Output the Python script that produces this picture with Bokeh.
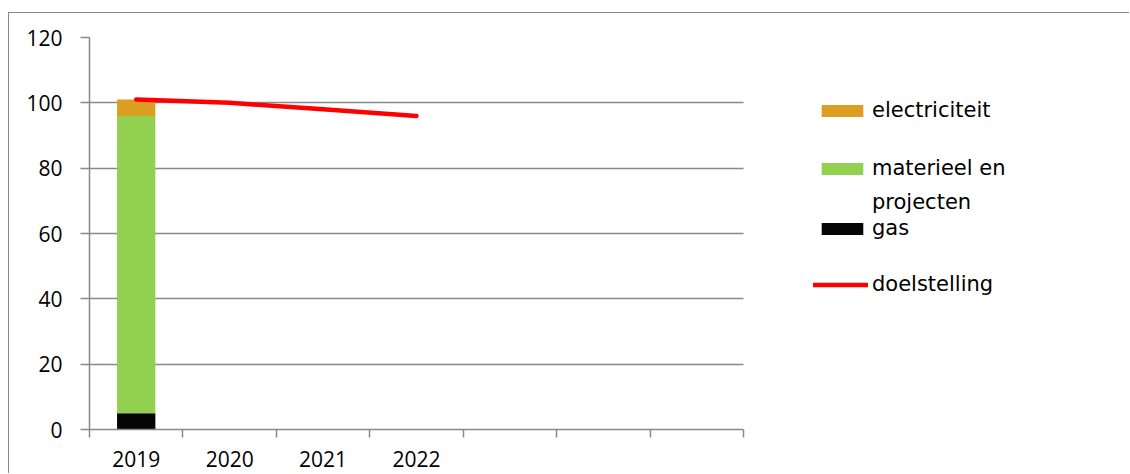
from bokeh.plotting import figure
from bokeh.models import Range1d, FixedTicker, Legend, LegendItem
from bokeh.embed import file_html
from bokeh.resources import INLINE

# ---- data ----
years = ["2019", "2020", "2021", "2022"]
n_slots = 7
bar_years = ["2019"]
gas = [5]
materieel = [91]
electriciteit = [5]
doelstelling = [101, 100, 98, 96]
y_ticks = [0, 20, 40, 60, 80, 100, 120]

ORANGE = "#DC9E20"
GREEN = "#92D050"
BLACK = "#050505"
RED = "#FF0000"
GRAY = "#898989"
FONT = "Open Sans"
LFONT = "DejaVu Sans"

# layout (canvas origin sits at page (9, 13) because of the CSS border)
CW, CH = 1121, 461
LEFT, TOP, BOTTOM = 80, 24, 45
PLOT_W = 654                      # width of the category area in px
frame_w = CW - LEFT
x_end = n_slots * frame_w / PLOT_W

p = figure(width=CW, height=CH, output_backend="svg", toolbar_location=None,
           x_range=Range1d(0, x_end), y_range=Range1d(0, 120),
           min_border_left=LEFT, min_border_right=0, min_border_top=TOP,
           min_border_bottom=BOTTOM)
p.outline_line_color = None
p.background_fill_color = "white"
p.border_fill_color = "white"
p.styles = {"margin-left": "8px", "margin-top": "12px",
            "border-left": "1px solid #898989", "border-top": "1px solid #898989"}

bx = [years.index(y) + 0.5 for y in bar_years]
src = dict(x=bx, gas=gas, materieel=materieel, electriciteit=electriciteit)
bars = p.vbar_stack(["gas", "materieel", "electriciteit"], x="x", width=0.41,
                    source=src, color=[BLACK, GREEN, ORANGE], line_color=None)

lx = [years.index(y) + 0.5 for y in years]
line = p.line(lx, doelstelling, line_color=RED, line_width=4.5, line_cap="round")

# axes
xa = p.xaxis[0]
xa.bounds = (0, n_slots)
xa.ticker = FixedTicker(ticks=lx, minor_ticks=list(range(n_slots + 1)))
xa.major_label_overrides = {x: y for x, y in zip(lx, years)}
xa.major_tick_line_color = None
xa.major_tick_out = 8
xa.major_tick_in = 0
xa.minor_tick_out = 8
xa.minor_tick_in = 0
xa.minor_tick_line_color = GRAY
xa.minor_tick_line_width = 1.5
xa.axis_line_color = GRAY
xa.axis_line_width = 1.5
xa.major_label_standoff = 13
xa.major_label_text_font = FONT
xa.major_label_text_font_size = "21px"
xa.major_label_text_color = "black"

ya = p.yaxis[0]
ya.ticker = FixedTicker(ticks=y_ticks)
ya.major_tick_out = 9
ya.major_tick_in = 0
ya.minor_tick_line_color = None
ya.major_tick_line_color = GRAY
ya.major_tick_line_width = 1.5
ya.axis_line_color = GRAY
ya.axis_line_width = 1.5
ya.major_label_standoff = 18
ya.major_label_text_font = FONT
ya.major_label_text_font_size = "21px"
ya.major_label_text_color = "black"

p.xgrid.grid_line_color = None
p.ygrid.grid_line_color = GRAY
p.ygrid.grid_line_width = 1.5
p.ygrid.cross_bounds = (0, n_slots)

frame_h = CH - TOP - BOTTOM
frame_top_abs = 13 + TOP
frame_left_abs = 9 + LEFT

def add_leg(label, renderer, y_center_abs, x_abs=816, gw=52, gh=15):
    h = 26
    bottom_from_frame_bottom = frame_h - (y_center_abs - frame_top_abs) - h / 2
    leg = Legend(items=[LegendItem(label=label, renderers=[renderer])],
                 location=(x_abs - frame_left_abs, bottom_from_frame_bottom),
                 margin=0, padding=0, border_line_color=None,
                 background_fill_alpha=0, glyph_width=gw, glyph_height=gh,
                 label_height=h, label_standoff=4,
                 label_text_font=LFONT, label_text_font_size="21px",
                 label_text_color="black")
    p.add_layout(leg, "center")

add_leg("electriciteit", bars[2], 110)
add_leg("materieel en", bars[1], 168)
add_leg("projecten", bars[1], 202, x_abs=868, gw=0)
add_leg("gas", bars[0], 228)
add_leg("doelstelling", line, 284, x_abs=813, gw=55)

open("out.html", "w").write(file_html(p, INLINE))
